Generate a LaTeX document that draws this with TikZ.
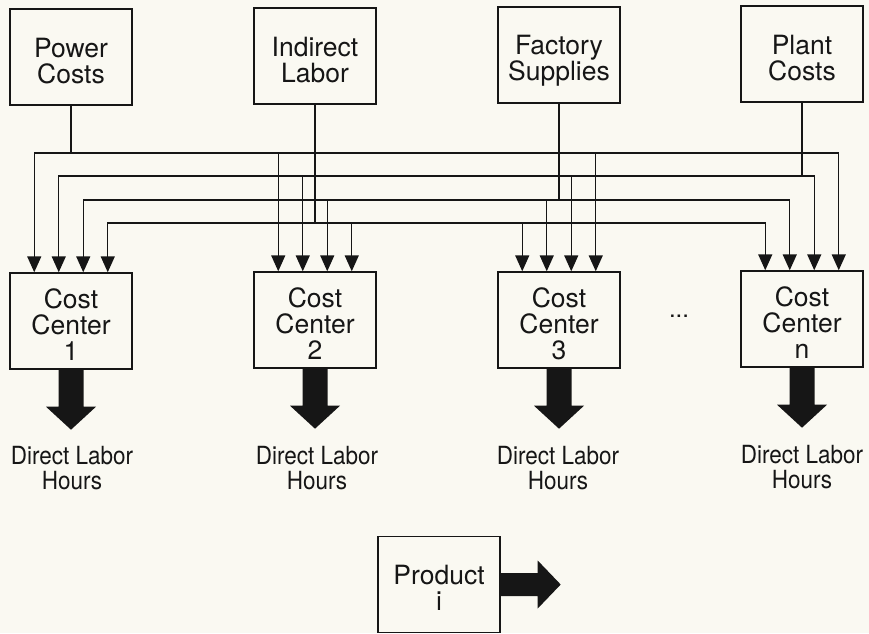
\documentclass[tikz,border=0pt]{standalone}
\usepackage{fontspec}
\setmainfont{TeX Gyre Heros}
\newfontfamily\narrowfont[FakeStretch=0.9]{TeX Gyre Heros}
\usetikzlibrary{arrows.meta,calc}
\definecolor{paper}{RGB}{250,249,242}
\definecolor{ink}{RGB}{22,22,22}
\newcommand{\topstrut}{\rule{0pt}{31pt}}
\newcommand{\botstrut}{\rule[-5pt]{0pt}{5pt}}
\newcommand{\bx}[1]{\topstrut#1\botstrut}
\begin{document}
\begin{tikzpicture}[x=1pt,y=-1pt,
  box/.style={draw=ink,text=ink,line width=1.4pt,minimum width=122pt,minimum height=96pt,
    inner sep=0pt,align=center,font=\fontsize{26.5}{26}\selectfont},
  feed/.style={draw=ink,line width=1.4pt,line cap=rect},
  feedarrow/.style={draw=ink,line width=1.4pt,-{Triangle[width=14pt,length=16pt]}},
  outlabel/.style={align=center,text=ink,inner sep=0pt,
    font=\narrowfont\fontsize{25}{25}\selectfont},
  bigarrow/.style={fill=ink,draw=none}
]
\fill[paper] (0,0) rectangle (869,633);
\useasboundingbox (0,0) rectangle (869,633);

% cost sources
\node[box] (pc) at (71,57) {\topstrut Power\\Costs\botstrut};
\node[box] (il) at (315,56) {\topstrut Indirect\\Labor\botstrut};
\node[box] (fs) at (559,55) {\topstrut Factory\\Supplies\botstrut};
\node[box] (pl) at (802,54) {\topstrut Plant\\Costs\botstrut};

% cost centers
\node[box] (c1) at (71,321) {\topstrut Cost\\Center\\1\botstrut};
\node[box] (c2) at (315,320) {\topstrut Cost\\Center\\2\botstrut};
\node[box] (c3) at (559,320) {\topstrut Cost\\Center\\3\botstrut};
\node[box] (cn) at (802,319) {\topstrut Cost\\Center\\n\botstrut};
\node[text=ink,inner sep=0pt,font=\fontsize{24}{24}\selectfont] (dots) at (679,316) {...};

% product
\node[box] (pr) at (439,584.5) {\topstrut Product\\i\botstrut};

% slot coordinates on the cost center tops
\foreach \c in {c1,c2,c3,cn}{
  \foreach \i/\dx in {1/-36.75,2/-12.25,3/12.25,4/36.75}{
    \coordinate (\c-\i) at ($(\c.north)+(\dx,0)$);
  }
}

% junctions below the sources
\coordinate (jpc) at (71,153);
\coordinate (jpl) at (802,176);
\coordinate (jfs) at (559,200);
\coordinate (jil) at (315,223);

\draw[feed] (pc) -- (jpc);
\draw[feed] (pl) -- (jpl);
\draw[feed] (fs) -- (jfs);
\draw[feed] (il) -- (jil);

\foreach \s/\p/\q/\r/\t in {jpc/1/1/4/4, jpl/2/2/3/3, jfs/3/3/2/2, jil/4/4/1/1}{
  \draw[feed] (c1-\p |- \s) -- (cn-\t |- \s);
  \draw[feedarrow] (c1-\p |- \s) -- (c1-\p);
  \draw[feedarrow] (c2-\q |- \s) -- (c2-\q);
  \draw[feedarrow] (c3-\r |- \s) -- (c3-\r);
  \draw[feedarrow] (cn-\t |- \s) -- (cn-\t);
}

% big output arrows
\foreach \c in {c1,c2,c3,cn}{
  \fill[bigarrow] (\c.south) ++(-12.5,0) -- ++(0,37) -- ++(-12.5,0) -- ++(25,23)
    -- ++(25,-23) -- ++(-12.5,0) -- ++(0,-37) -- cycle;
}
\fill[bigarrow] (pr.east) ++(0,-11.5) -- ++(37,0) -- ++(0,-12.5) -- ++(23,24)
  -- ++(-23,24) -- ++(0,-12.5) -- ++(-37,0) -- cycle;

% labels
\node[outlabel] (d1) at (72,468.5) {Direct Labor\\Hours};
\node[outlabel] (d2) at (317,468.5) {Direct Labor\\Hours};
\node[outlabel] (d3) at (558,468) {Direct Labor\\Hours};
\node[outlabel] (dn) at (802,467) {Direct Labor\\Hours};
\end{tikzpicture}
\end{document}
